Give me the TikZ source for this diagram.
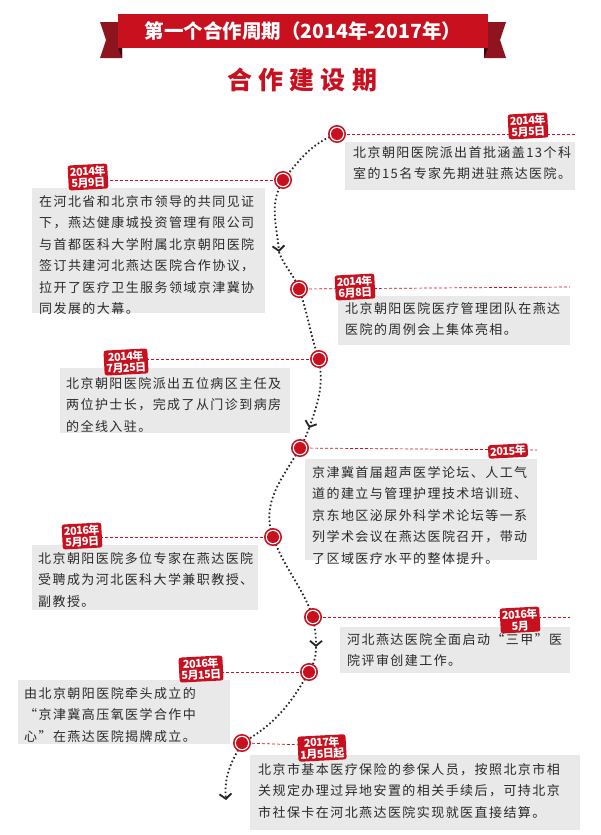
\documentclass[tikz,border=0pt]{standalone}
\usepackage{fontspec}
\setmainfont{Noto Sans CJK SC}
\usetikzlibrary{arrows.meta}
\definecolor{rd}{HTML}{C8101E}
\definecolor{drd}{HTML}{8E1520}
\definecolor{bx}{HTML}{E9E9E9}
\definecolor{tx}{HTML}{2A2A2A}
\tikzset{
  body/.style={anchor=north west,inner sep=0pt,align=left,text=tx,font=\fontsize{13}{21.5}\selectfont\addfontfeatures{LetterSpace=11}},
  tag/.style={fill=rd,rounded corners=2.5pt,text=white,align=center,inner xsep=2pt,inner ysep=1.5pt,rotate=3,font=\bfseries\fontsize{11}{11.5}\selectfont\addfontfeatures{LetterSpace=-5}},
  lk/.style={rd,dashed,dash pattern=on 3pt off 2pt,line width=0.7pt},
  tl/.style={black!85,line width=1.8pt,dash pattern=on 1.6pt off 2.4pt},
  ar/.style={tl,-{Straight Barb[length=5pt,width=12pt,line width=1.8pt]}},
}
\newcommand{\tdot}[1]{\fill[rd] (#1) circle (9);\fill[white] (#1) circle (7.3);\fill[rd] (#1) circle (6);}
\begin{document}
\begin{tikzpicture}[x=1pt,y=-1pt]
\useasboundingbox (0,0) rectangle (600,835);
% banner
\fill[drd] (100,22) -- (122,22) -- (122,58) -- (100,58) -- (106,40) -- cycle;
\fill[drd] (506,22) -- (484,22) -- (484,58) -- (506,58) -- (500,40) -- cycle;
\fill[black!60!drd] (118,48) -- (122,58) -- (122,48) -- cycle;
\fill[black!60!drd] (488,48) -- (484,58) -- (484,48) -- cycle;
\fill[rd] (118,14) rectangle (488,48);
\node[text=white,font=\bfseries\fontsize{19.5}{19.5}\selectfont] (title) at (303,31) {第一个合作周期（2014年-2017年）};
\node[text=rd,font=\bfseries\fontsize{25}{25}\selectfont\addfontfeatures{LetterSpace=25}] (sub) at (302,80) {合作建设期};
% coordinates of timeline
\coordinate (d1) at (337,134);
\coordinate (d2) at (283,180);
\coordinate (a1) at (279,252);
\coordinate (d3) at (299,289);
\coordinate (d4) at (319,359);
\coordinate (a2) at (309,428);
\coordinate (d5) at (300,448);
\coordinate (d6) at (273,537);
\coordinate (d7) at (313,617);
\coordinate (a3) at (316,647);
\coordinate (d8) at (309,672);
\coordinate (d9) at (242,743);
\coordinate (a4) at (226,800);
% boxes
\fill[bx] (345,142) rectangle (575,190);
\fill[bx] (32,188) rectangle (265,313);
\fill[bx] (338,296) rectangle (570,345);
\fill[bx] (60,368) rectangle (290,433);
\fill[bx] (305,459) rectangle (537,560);
\fill[bx] (32,545) rectangle (258,610);
\fill[bx] (340,627) rectangle (570,673);
\fill[bx] (18,680) rectangle (230,744);
\fill[bx] (250,755) rectangle (580,830);
% dashed links
\draw[lk] (d1) -- (575,134);
\draw[lk] (d2) -- (100,180);
\draw[lk] (d3) -- (570,287);
\draw[lk] (d4) -- (140,359);
\draw[lk] (d5) -- (537,450);
\draw[lk] (d6) -- (95,537);
\draw[lk] (d7) -- (570,617);
\draw[lk] (d8) -- (215,672);
\draw[lk] (d9) -- (340,746);
% timeline
\draw[tl] (d1) to[out=200,in=50] (d2);
\draw[ar] (d2) to[out=240,in=95] (a1);
\draw[tl] (a1) to[out=-70,in=110] (d3);
\draw[tl] (d3) to[out=-70,in=110] (d4);
\draw[ar] (d4) to[out=-80,in=70] (a2);
\draw[tl] (a2) to[out=-110,in=60] (d5);
\draw[tl] (d5) to[out=-120,in=110] (d6);
\draw[tl] (d6) to[out=-70,in=110] (d7);
\draw[ar] (d7) to[out=-80,in=90] (a3);
\draw[tl] (a3) to[out=-90,in=60] (d8);
\draw[tl] (d8) to[out=-120,in=30] (d9);
\draw[ar] (d9) to[out=-120,in=95] (a4);
\foreach \d in {d1,d2,d3,d4,d5,d6,d7,d8,d9} {\tdot{\d}}
% tags
\node[tag] (t1) at (528,126) {2014年\\5月5日};
\node[tag] (t2) at (88,177) {2014年\\5月9日};
\node[tag] (t3) at (355,287) {2014年\\6月8日};
\node[tag] (t4) at (126,362) {2014年\\7月25日};
\node[tag] (t5) at (508,451) {2015年};
\node[tag] (t6) at (82,536) {2016年\\5月9日};
\node[tag] (t7) at (520,620) {2016年\\5月};
\node[tag] (t8) at (201,669) {2016年\\5月15日};
\node[tag] (t9) at (322,748) {2017年\\1月5日起};
% texts
\node[body] (x1) at (353,146) {北京朝阳医院派出首批涵盖13个科\\室的15名专家先期进驻燕达医院。};
\node[body] (x2) at (39,195) {在河北省和北京市领导的共同见证\\下，燕达健康城投资管理有限公司\\与首都医科大学附属北京朝阳医院\\签订共建河北燕达医院合作协议，\\拉开了医疗卫生服务领域京津冀协\\同发展的大幕。};
\node[body] (x3) at (345,302) {北京朝阳医院医疗管理团队在燕达\\医院的周例会上集体亮相。};
\node[body] (x4) at (66,377) {北京朝阳医院派出五位病区主任及\\两位护士长，完成了从门诊到病房\\的全线入驻。};
\node[body] (x5) at (312,466) {京津冀首届超声医学论坛、人工气\\道的建立与管理护理技术培训班、\\京东地区泌尿外科学术论坛等一系\\列学术会议在燕达医院召开，带动\\了区域医疗水平的整体提升。};
\node[body] (x6) at (38,552) {北京朝阳医院多位专家在燕达医院\\受聘成为河北医科大学兼职教授、\\副教授。};
\node[body] (x7) at (347,633) {河北燕达医院全面启动“三甲”医\\院评审创建工作。};
\node[body] (x8) at (24,687) {由北京朝阳医院牵头成立的\\“京津冀高压氧医学合作中\\心”在燕达医院揭牌成立。};
\node[body] (x9) at (258,763) {北京市基本医疗保险的参保人员，按照北京市相\\关规定办理过异地安置的相关手续后，可持北京\\市社保卡在河北燕达医院实现就医直接结算。};
\end{tikzpicture}
\end{document}
